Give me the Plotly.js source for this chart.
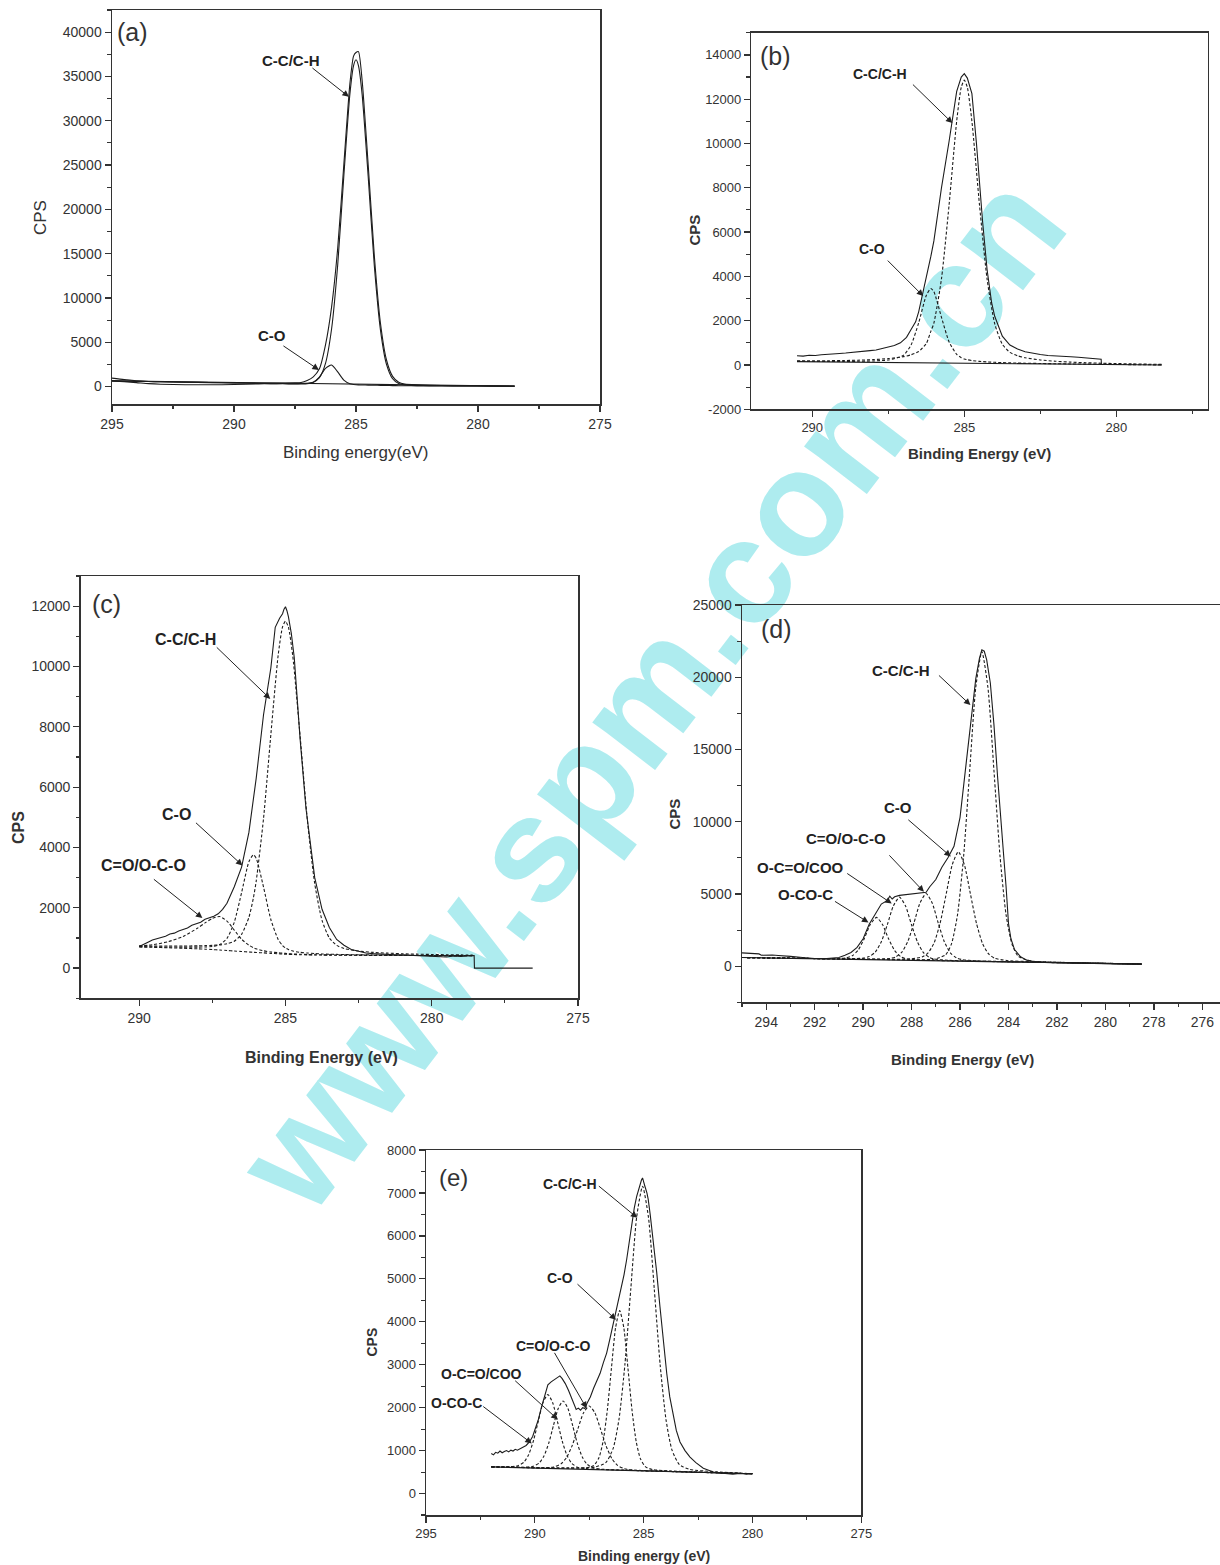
<!DOCTYPE html>
<html><head><meta charset="utf-8">
<script src="https://cdn.plot.ly/plotly-3.0.1.min.js"></script>
<style>
html,body{margin:0;padding:0;background:#fff;}
#wrap{position:relative;width:1220px;height:1565px;overflow:hidden;background:#fff;}
#wm{position:absolute;left:650px;top:692px;transform:translate(-50%,-50%) rotate(-52.5deg);font-family:"Liberation Sans",Arial,sans-serif;font-weight:bold;font-size:149px;color:#aeecef;white-space:nowrap;line-height:1;z-index:0;}
#plot{position:absolute;left:0;top:0;width:1220px;height:1565px;z-index:1;}
</style></head>
<body><div id="wrap"><div id="wm">www.spm.com.cn</div><div id="plot"></div></div>
<script>
// ---------- Panel (a) ----------
const aX = [295, 294.5, 294, 293.5, 293, 292, 291, 290, 289, 288.5, 288, 287.5, 287.25, 287, 286.75, 286.5, 286.25, 286, 285.75, 285.5, 285.25, 285.1, 285, 284.9, 284.75, 284.5, 284.25, 284, 283.75, 283.5, 283.25, 283, 282.5, 282, 281, 280, 279, 278.5];
const aRaw = [950, 780, 660, 580, 540, 500, 460, 420, 390, 390, 400, 420, 460, 700, 1100, 2000, 4700, 9000, 15600, 25000, 34200, 37300, 37700, 37800, 34600, 25000, 14800, 7200, 3000, 1150, 480, 280, 190, 150, 110, 90, 70, 60];
const aCC = [640, 560, 450, 330, 260, 210, 200, 230, 300, 330, 340, 330, 340, 357, 488, 1008, 2618, 6521, 13725, 23723, 33022, 36233, 36890, 36224, 33000, 23680, 13660, 6435, 2510, 879, 337, 185, 129, 109, 85, 68, 54, 47];
const aCO = [640, 616, 592, 568, 544, 496, 448, 400, 354, 331, 313, 295, 293, 318, 500, 1073, 2062, 2440, 1661, 725, 309, 229, 205, 193, 179, 163, 150, 138, 120, 110, 100, 90, 84, 79, 68, 57, 46, 40];
const aBaseX = [295, 278.5];
const aBaseY = [640, 40];
const aXTicks = [295, 290, 285, 280, 275];
const aYTicks = [0, 5000, 10000, 15000, 20000, 25000, 30000, 35000, 40000];

// ---------- Panel (b) ----------
const bX = [290.5, 290, 289.5, 289, 288.5, 288, 287.5, 287, 286.75, 286.5, 286.25, 286.1, 286, 285.75, 285.5, 285.25, 285.1, 285, 284.9, 284.75, 284.5, 284.25, 284, 283.75, 283.5, 283.25, 283, 282.5, 282, 281.5, 281, 280.5, 280, 279.5, 279, 278.5];
const bCC = [188, 190, 193, 202, 217, 244, 289, 376, 461, 607, 968, 1518, 1889, 3893, 7232, 11012, 12537, 12861, 12535, 11006, 7220, 3874, 1864, 937, 569, 417, 326, 227, 169, 129, 102, 81, 65, 50, 38, 27];
const bCO = [162, 160, 158, 159, 166, 183, 226, 441, 903, 1904, 3141, 3455, 3308, 2152, 1042, 479, 331, 275, 237, 199, 164, 139, 122, 109, 97, 88, 81, 68, 58, 48, 40, 32, 25, 17, 10, 3];
const bRawX = [290.5, 290.3, 290.1, 289.9, 289.7, 289.5, 289.3, 289.1, 288.9, 288.7, 288.5, 288.3, 288.1, 287.9, 287.7, 287.5, 287.3, 287.1, 286.9, 286.75, 286.6, 286.5, 286.4, 286.25, 286.1, 286, 285.75, 285.5, 285.35, 285.25, 285.1, 285, 284.9, 284.75, 284.6, 284.5, 284.4, 284.25, 284.1, 284, 283.75, 283.5, 283.25, 283, 282.75, 282.5, 282.25, 282, 281.75, 281.5, 281.25, 281, 280.75, 280.5, 280.49];
const bRaw = [420, 400, 440, 430, 460, 470, 500, 520, 540, 560, 600, 610, 650, 680, 740, 800, 880, 1000, 1250, 1600, 1950, 2400, 3000, 4000, 4900, 5600, 8000, 10100, 11500, 12350, 13000, 13150, 12950, 12250, 10000, 8200, 6500, 4300, 2800, 2200, 1300, 900, 720, 600, 520, 470, 430, 400, 380, 370, 350, 330, 300, 260, 25];
const bBaseX = [290.5, 278.5];
const bBaseY = [150, 0];
const bXTicks = [290, 285, 280];
const bYTicks = [-2000, 0, 2000, 4000, 6000, 8000, 10000, 12000, 14000];

// ---------- Panel (c) ----------
const cX = [290, 289.5, 289, 288.5, 288, 287.75, 287.5, 287.25, 287, 286.75, 286.5, 286.25, 286.1, 286, 285.75, 285.5, 285.25, 285.1, 285, 284.9, 284.75, 284.5, 284.25, 284, 283.75, 283.5, 283.25, 283, 282.5, 282, 281.5, 281, 280.5, 280, 279.5, 279, 278.6];
const cBg = [700, 690, 675, 660, 640, 628, 615, 600, 585, 568, 552, 536, 527, 520, 505, 490, 476, 468, 463, 458, 452, 445, 440, 436, 433, 431, 429, 428, 426, 424, 422, 420, 418, 416, 414, 412, 410];
const cCC = [737, 735, 732, 734, 739, 746, 755, 770, 808, 894, 1121, 1685, 2311, 2887, 4961, 7739, 10372, 11314, 11503, 11304, 10348, 7694, 4896, 2803, 1582, 1000, 755, 651, 566, 523, 496, 477, 463, 453, 444, 438, 433];
const cCO = [714, 708, 700, 697, 697, 703, 716, 780, 984, 1523, 2502, 3527, 3757, 3641, 2685, 1612, 952, 751, 670, 617, 567, 524, 500, 483, 471, 462, 455, 450, 442, 437, 432, 429, 425, 422, 419, 416, 414];
const cCOO = [730, 780, 880, 1050, 1330, 1500, 1650, 1710, 1560, 1260, 960, 760, 680, 640, 575, 535, 510, 497, 490, 478, 469, 460, 452, 446, 442, 439, 436, 434, 431, 428, 425, 423, 420, 418, 416, 414, 412];
const cRawX = [290, 289.85, 289.7, 289.55, 289.4, 289.25, 289.1, 288.95, 288.8, 288.65, 288.5, 288.35, 288.2, 288.05, 287.9, 287.75, 287.6, 287.45, 287.3, 287.15, 287, 286.75, 286.5, 286.25, 286, 285.75, 285.5, 285.35, 285.2, 285.1, 285.05, 285, 284.95, 284.9, 284.8, 284.7, 284.5, 284.3, 284, 283.75, 283.5, 283.25, 283, 282.75, 282.5, 282.25, 282, 281.75, 281.5, 281.25, 281, 280.75, 280.5, 280.25, 280, 279.75, 279.5, 279.25, 279, 278.75, 278.55, 278.54, 276.55];
const cRaw = [717, 800, 860, 930, 970, 1030, 1060, 1130, 1160, 1230, 1270, 1330, 1420, 1460, 1520, 1620, 1660, 1720, 1800, 1950, 2150, 2700, 3350, 4500, 6300, 8400, 9950, 11300, 11600, 11750, 11900, 11980, 11850, 11650, 11100, 10300, 7600, 5300, 3000, 1950, 1350, 950, 760, 620, 560, 500, 480, 460, 450, 445, 440, 430, 420, 400, 410, 380, 370, 400, 390, 410, 415, 0, 0];
const cXTicks = [290, 285, 280, 275];
const cYTicks = [0, 2000, 4000, 6000, 8000, 10000, 12000];

// ---------- Panel (d) ----------
const dCCX = [295, 289.1, 288.1, 287.1, 286.6, 286.35, 286.1, 285.85, 285.6, 285.35, 285.1, 284.85, 284.6, 284.35, 284.1, 283.85, 283.6, 283.1, 282.1, 278.5];
const dCC = [600, 460, 449, 479, 780, 1564, 3608, 7662, 13560, 19314, 21774, 19300, 13532, 7620, 3552, 1494, 696, 367, 281, 150];
const dCOX = [295, 290.07, 289.07, 288.07, 287.57, 287.32, 287.07, 286.82, 286.57, 286.32, 286.07, 285.82, 285.57, 285.32, 285.07, 284.82, 284.57, 284.07, 283.07, 278.5];
const dCO = [600, 488, 479, 504, 634, 916, 1618, 2993, 5010, 7031, 7921, 7017, 4982, 2951, 1562, 846, 550, 392, 311, 155];
const dCOOX = [295, 291.4, 290.4, 289.4, 288.9, 288.65, 288.4, 288.15, 287.9, 287.65, 287.4, 287.15, 286.9, 286.65, 286.4, 286.15, 285.9, 285.4, 284.4, 278.5];
const dCOO = [600, 513, 495, 493, 535, 646, 977, 1739, 3005, 4391, 5028, 4377, 2977, 1697, 921, 576, 451, 381, 327, 148];
const dOCOX = [295, 292.5, 291.5, 290.5, 290, 289.75, 289.5, 289.25, 289, 288.75, 288.5, 288.25, 288, 287.75, 287.5, 287.25, 287, 286.5, 285.5, 278.5];
const dOCO = [600, 542, 523, 521, 560, 663, 974, 1690, 2879, 4181, 4779, 4167, 2851, 1648, 918, 593, 476, 409, 356, 146];
const dOCOCX = [295, 292.45, 291.45, 290.95, 290.7, 290.45, 290.2, 289.95, 289.7, 289.45, 289.2, 288.95, 288.7, 288.45, 288.2, 287.95, 287.45, 286.45, 278.5];
const dOCOC = [600, 541, 527, 536, 573, 716, 1125, 1924, 2898, 3375, 2884, 1896, 1083, 660, 503, 452, 415, 374, 144];
const dRawX = [295, 294.75, 294.5, 294.3, 294.2, 294, 293.75, 293.5, 293.25, 293, 292.5, 292, 291.5, 291.25, 291, 290.75, 290.5, 290.25, 290, 289.75, 289.5, 289.25, 289, 288.9, 288.8, 288.7, 288.5, 288.25, 288, 287.75, 287.5, 287.4, 287.25, 287, 286.75, 286.5, 286.25, 286, 285.75, 285.5, 285.35, 285.2, 285.1, 285, 284.9, 284.75, 284.6, 284.45, 284.3, 284.2, 284.1, 284, 283.9, 283.75, 283.5, 283.25, 283, 282.5, 282, 281, 280, 279, 278.5];
const dRaw = [920, 890, 860, 850, 760, 780, 770, 740, 720, 680, 600, 530, 520, 545, 600, 760, 950, 1300, 1900, 2900, 3650, 4300, 4550, 4850, 4650, 4800, 4900, 4950, 5000, 5050, 5150, 5120, 5500, 6000, 6850, 7500, 8300, 10300, 14000, 17800, 19900, 21300, 21900, 21800, 21200, 19600, 16700, 13100, 10100, 8000, 5500, 2950, 1900, 1150, 650, 420, 330, 260, 230, 200, 170, 150, 140];
const dBaseX = [295, 278.5];
const dBaseY = [600, 140];
const dXTicks = [294, 292, 290, 288, 286, 284, 282, 280, 278, 276];
const dYTicks = [0, 5000, 10000, 15000, 20000, 25000];

// ---------- Panel (e) ----------
const eCCX = [292, 288.43, 287.21, 286.74, 286.4, 286.13, 285.86, 285.59, 285.32, 285.05, 284.78, 284.51, 284.24, 283.97, 283.7, 283.36, 282.89, 281.68, 280];
const eCC = [620, 597, 620, 720, 1051, 1740, 3009, 4767, 6443, 7157, 6436, 4753, 2987, 1711, 1015, 675, 562, 507, 460];
const eCOX = [292, 288.48, 287.62, 287.29, 287.05, 286.86, 286.67, 286.48, 286.29, 286.1, 285.91, 285.72, 285.53, 285.34, 285.15, 284.91, 284.58, 283.73, 280];
const eCO = [620, 587, 597, 652, 838, 1223, 1935, 2921, 3861, 4261, 3856, 2911, 1920, 1203, 813, 620, 557, 524, 460];
const eCOOX = [292, 290.75, 289.58, 289.13, 288.8, 288.54, 288.28, 288.02, 287.76, 287.5, 287.24, 286.98, 286.72, 286.46, 286.2, 285.88, 285.42, 284.25, 280];
const eCOO = [620, 609, 601, 619, 690, 841, 1122, 1512, 1883, 2040, 1877, 1498, 1101, 813, 655, 576, 546, 523, 460];
const eOCOCX = [292, 291.45, 290.46, 290.08, 289.8, 289.58, 289.36, 289.14, 288.92, 288.7, 288.48, 288.26, 288.04, 287.82, 287.6, 287.33, 286.94, 285.95, 280];
const eOCOC = [620, 618, 614, 634, 711, 873, 1173, 1591, 1988, 2156, 1982, 1579, 1156, 850, 682, 597, 567, 545, 460];
const eOCOX = [292, 291.16, 290.78, 290.5, 290.28, 290.06, 289.84, 289.62, 289.4, 289.18, 288.96, 288.74, 288.52, 288.3, 288.03, 287.64, 286.65, 280];
const eOCO = [627, 625, 647, 731, 908, 1235, 1689, 2122, 2305, 2116, 1677, 1217, 884, 701, 611, 579, 555, 460];
const eRawX = [292, 291.9, 291.8, 291.7, 291.6, 291.5, 291.4, 291.3, 291.2, 291.1, 291, 290.9, 290.8, 290.6, 290.4, 290.25, 290.1, 290, 289.85, 289.7, 289.55, 289.4, 289.25, 289.1, 288.95, 288.85, 288.75, 288.6, 288.45, 288.3, 288.2, 288.1, 288, 287.9, 287.8, 287.7, 287.6, 287.45, 287.3, 287.15, 287, 286.85, 286.7, 286.55, 286.42, 286.3, 286.15, 286, 285.9, 285.78, 285.65, 285.55, 285.43, 285.32, 285.2, 285.1, 285.05, 285, 284.94, 284.85, 284.79, 284.7, 284.56, 284.4, 284.25, 284.1, 283.94, 283.8, 283.64, 283.5, 283.33, 283.1, 282.87, 282.6, 282.26, 282, 281.8, 281.5, 281.19, 280.9, 280.6, 280.3, 280];
const eRaw = [934, 900, 960, 940, 990, 950, 980, 1000, 970, 1010, 990, 1030, 1010, 1070, 1120, 1200, 1330, 1480, 1700, 2000, 2300, 2530, 2600, 2660, 2700, 2740, 2680, 2560, 2400, 2200, 2090, 1960, 1990, 1940, 2000, 1980, 2100, 2250, 2450, 2620, 2800, 3050, 3270, 3600, 3890, 4150, 4500, 4830, 5100, 5450, 5900, 6300, 6650, 6920, 7150, 7300, 7350, 7280, 7150, 7000, 6850, 6500, 5900, 5150, 4350, 3550, 2800, 2250, 1790, 1470, 1200, 1000, 850, 720, 590, 530, 500, 480, 465, 450, 470, 455, 465];
const eBaseX = [292, 280];
const eBaseY = [620, 460];
const eXTicks = [295, 290, 285, 280, 275];
const eYTicks = [0, 1000, 2000, 3000, 4000, 5000, 6000, 7000, 8000];

// ---------- helpers ----------
const W = 1220, H = 1565;
const F = '"Liberation Sans", Arial, Helvetica, sans-serif';
const INK = '#1c1c1c', AX = '#333333';
const P = px => px / W;
const Q = py => 1 - py / H;

function ln(x, y, xa, ya, opt) {
  opt = opt || {};
  return {
    type: 'scatter', mode: 'lines', x: x, y: y, xaxis: xa, yaxis: ya, hoverinfo: 'skip',
    line: { color: opt.color || INK, width: opt.width || 1.1, dash: opt.dash ? '3px,2px' : 'solid',
            shape: opt.linear ? 'linear' : 'spline', smoothing: 0.6 }
  };
}

function mkX(px, range, ticks, mdt, anchor, size, mirror) {
  return {
    domain: [P(px[0]), P(px[1])], range: range, anchor: anchor, autorange: false,
    tickmode: 'array', tickvals: ticks, ticktext: ticks.map(String),
    ticks: 'outside', ticklen: 6, tickwidth: 1.3, tickcolor: AX,
    minor: { tickmode: 'linear', tick0: ticks[0], dtick: mdt, ticks: 'outside', ticklen: 3.5, tickwidth: 1.1, tickcolor: AX, showgrid: false },
    showline: true, linecolor: AX, linewidth: 1.5, mirror: mirror,
    showgrid: false, zeroline: false, fixedrange: true,
    tickfont: { family: F, size: size, color: '#333' }
  };
}
function mkY(py, range, ticks, mdt, anchor, size, mirror) {
  return {
    domain: [Q(py[1]), Q(py[0])], range: range, anchor: anchor, autorange: false,
    tickmode: 'array', tickvals: ticks, ticktext: ticks.map(String),
    ticks: 'outside', ticklen: 6, tickwidth: 1.3, tickcolor: AX,
    minor: { tickmode: 'linear', tick0: 0, dtick: mdt, ticks: 'outside', ticklen: 3.5, tickwidth: 1.1, tickcolor: AX, showgrid: false },
    showline: true, linecolor: AX, linewidth: 1.5, mirror: mirror,
    showgrid: false, zeroline: false, fixedrange: true,
    tickfont: { family: F, size: size, color: '#333' }
  };
}

const traces = [
  // (a) all solid
  ln(aBaseX, aBaseY, 'x', 'y', { linear: true }),
  ln(aX, aCO, 'x', 'y'),
  ln(aX, aCC, 'x', 'y'),
  ln(aX, aRaw, 'x', 'y'),
  // (b)
  ln(bBaseX, bBaseY, 'x2', 'y2', { linear: true }),
  ln(bX, bCO, 'x2', 'y2', { dash: true }),
  ln(bX, bCC, 'x2', 'y2', { dash: true }),
  ln(bRawX, bRaw, 'x2', 'y2', { linear: true }),
  // (c)
  ln(cX, cBg, 'x3', 'y3', { dash: true }),
  ln(cX, cCOO, 'x3', 'y3', { dash: true }),
  ln(cX, cCO, 'x3', 'y3', { dash: true }),
  ln(cX, cCC, 'x3', 'y3', { dash: true }),
  ln(cRawX, cRaw, 'x3', 'y3', { linear: true }),
  // (d)
  ln(dBaseX, dBaseY, 'x4', 'y4', { linear: true }),
  ln(dOCOCX, dOCOC, 'x4', 'y4', { dash: true }),
  ln(dOCOX, dOCO, 'x4', 'y4', { dash: true }),
  ln(dCOOX, dCOO, 'x4', 'y4', { dash: true }),
  ln(dCOX, dCO, 'x4', 'y4', { dash: true }),
  ln(dCCX, dCC, 'x4', 'y4', { dash: true }),
  ln(dRawX, dRaw, 'x4', 'y4', { linear: true }),
  // (e)
  ln(eBaseX, eBaseY, 'x5', 'y5', { linear: true }),
  ln(eOCOX, eOCO, 'x5', 'y5', { dash: true }),
  ln(eOCOCX, eOCOC, 'x5', 'y5', { dash: true }),
  ln(eCOOX, eCOO, 'x5', 'y5', { dash: true }),
  ln(eCOX, eCO, 'x5', 'y5', { dash: true }),
  ln(eCCX, eCC, 'x5', 'y5', { dash: true }),
  ln(eRawX, eRaw, 'x5', 'y5', { linear: true })
];

const ann = [];
function txt(t, px, py, size, opt) {
  opt = opt || {};
  ann.push({ xref: 'paper', yref: 'paper', x: P(px), y: Q(py), xanchor: 'center', yanchor: 'middle',
    text: t, showarrow: false, textangle: opt.angle || 0,
    font: { family: F, size: size, color: opt.color || '#222', weight: opt.bold ? 'bold' : 'normal' } });
}
function arrow(xa, ya, x, y, ax, ay) {
  ann.push({ xref: xa, yref: ya, x: x, y: y, ax: ax, ay: ay, axref: 'pixel', ayref: 'pixel',
    text: '', showarrow: true, arrowhead: 2, arrowsize: 1.3, arrowwidth: 1, arrowcolor: '#222', standoff: 0 });
}

// panel letters
txt('(a)', 132, 32, 25, { color: '#333' });
txt('(b)', 775.5, 56, 25, { color: '#333' });
txt('(c)', 106.5, 604, 25, { color: '#333' });
txt('(d)', 776, 629, 25, { color: '#333' });
txt('(e)', 453.5, 1177.5, 24, { color: '#333' });

// axis titles
txt('Binding energy(eV)', 356, 452, 17, { color: '#333' });
txt('CPS', 41, 218, 17, { color: '#333', angle: -90 });
txt('Binding Energy (eV)', 979.5, 454, 15, { color: '#333', bold: true });
txt('CPS', 693.6, 230, 15, { color: '#333', bold: true, angle: -90 });
txt('Binding Energy (eV)', 321.6, 1057, 16, { color: '#333', bold: true });
txt('CPS', 18, 828, 16, { color: '#333', bold: true, angle: -90 });
txt('Binding Energy (eV)', 962.7, 1059, 15, { color: '#333', bold: true });
txt('CPS', 673.5, 814, 15, { color: '#333', bold: true, angle: -90 });
txt('Binding energy (eV)', 644, 1556, 14, { color: '#333', bold: true });
txt('CPS', 371, 1342.5, 14, { color: '#333', bold: true, angle: -90 });

// peak labels
txt('C-C/C-H', 290.5, 61, 15, { bold: true });
txt('C-O', 272, 336, 15, { bold: true });
txt('C-C/C-H', 880, 74, 14, { bold: true });
txt('C-O', 872, 249, 14, { bold: true });
txt('C-C/C-H', 185, 639, 16, { bold: true });
txt('C-O', 176.5, 814.5, 16, { bold: true });
txt('C=O/O-C-O', 143.5, 865.5, 16, { bold: true });
txt('C-C/C-H', 900.7, 671, 15, { bold: true });
txt('C-O', 897.5, 808, 15, { bold: true });
txt('C=O/O-C-O', 846.3, 838.5, 15, { bold: true });
txt('O-C=O/COO', 800.7, 867.5, 15, { bold: true });
txt('O-CO-C', 805.8, 894, 15, { bold: true });
txt('C-C/C-H', 570, 1184, 14, { bold: true });
txt('C-O', 559.5, 1278, 14, { bold: true });
txt('C=O/O-C-O', 552.5, 1346, 14, { bold: true });
txt('O-C=O/COO', 482, 1373.5, 14, { bold: true });
txt('O-CO-C', 456, 1402.5, 14, { bold: true });

// arrows (tip in data coords, tail offset in px)
arrow('x', 'y', 285.29, 32700, -38, -30);
arrow('x', 'y', 286.52, 1885, -37, -25);
arrow('x2', 'y2', 285.39, 10919, -41, -40);
arrow('x2', 'y2', 286.35, 3110, -37, -37);
arrow('x3', 'y3', 285.52, 8925, -55, -53);
arrow('x3', 'y3', 286.47, 3404, -48, -44);
arrow('x3', 'y3', 287.84, 1659, -50, -40);
arrow('x4', 'y4', 285.57, 18075, -33, -31);
arrow('x4', 'y4', 286.38, 7590, -44, -38);
arrow('x4', 'y4', 287.49, 5145, -36, -38);
arrow('x4', 'y4', 288.82, 4340, -46, -31);
arrow('x4', 'y4', 289.78, 3026, -35, -22);
arrow('x5', 'y5', 285.29, 6420, -40, -33);
arrow('x5', 'y5', 286.27, 4046, -40, -37);
arrow('x5', 'y5', 287.62, 1984, -33, -57);
arrow('x5', 'y5', 288.95, 1727, -44, -40);
arrow('x5', 'y5', 290.14, 1167, -50, -38);

const layout = {
  width: W, height: H, margin: { l: 0, r: 0, t: 0, b: 0 }, showlegend: false,
  paper_bgcolor: 'rgba(0,0,0,0)', plot_bgcolor: 'rgba(0,0,0,0)',
  font: { family: F },
  xaxis: mkX([112, 600], [295, 275], aXTicks, 2.5, 'y', 14, true),
  yaxis: mkY([10, 404.3], [-2000, 42500], aYTicks, 2500, 'x', 14, true),
  xaxis2: mkX([751.4, 1207.6], [292, 277], bXTicks, 2.5, 'y2', 13, true),
  yaxis2: mkY([32.7, 409.3], [-2000, 15000], bYTicks, 1000, 'x2', 13, true),
  xaxis3: mkX([80.7, 578], [292, 275], cXTicks, 2.5, 'y3', 14, true),
  yaxis3: mkY([576, 998.3], [-1000, 13000], cYTicks, 1000, 'x3', 14, true),
  xaxis4: mkX([742, 1220], [295, 275.27], dXTicks, 1, 'y4', 14, true),
  yaxis4: mkY([605, 1002.3], [-2500, 25000], dYTicks, 2500, 'x4', 14, false),
  xaxis5: mkX([426, 861.3], [295, 275], eXTicks, 2.5, 'y5', 13, true),
  yaxis5: mkY([1150, 1515], [-500, 8000], eYTicks, 500, 'x5', 13, true),
  annotations: ann
};

Plotly.newPlot('plot', traces, layout, { staticPlot: true, displayModeBar: false });
</script></body></html>
